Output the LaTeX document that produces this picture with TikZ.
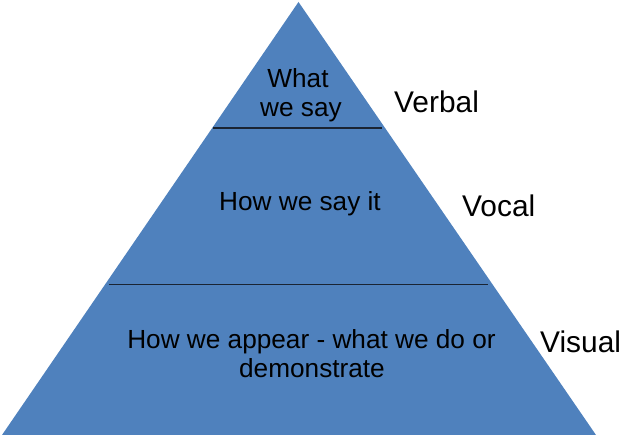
\documentclass[tikz,border=0pt]{standalone}
\usepackage{fontspec}
\setmainfont{Liberation Sans}
\definecolor{pyrblue}{HTML}{4F81BD}
\definecolor{divline}{HTML}{1A2433}
\begin{document}
\begin{tikzpicture}[x=1bp,y=1bp,
  inner/.style={inner sep=0pt,anchor=base,font=\fontsize{26.3}{29}\selectfont,text=black},
  lbl/.style={inner sep=0pt,anchor=base west,font=\fontsize{30}{33}\selectfont,text=black},
  divider/.style={draw=divline,line width=1.5bp}]
\useasboundingbox (0,0) rectangle (641,437);
\coordinate (apex) at (298.5,435);
\coordinate (bl) at (2,2);
\coordinate (br) at (596,2);
\fill[pyrblue] (bl) -- (apex) -- (br) -- cycle;
\coordinate (l1a) at (213,309);
\coordinate (l1b) at (382,309);
\coordinate (l2a) at (109,152.5);
\coordinate (l2b) at (488,152.5);
\draw[divider] (l1a) -- (l1b);
\draw[divider] (l2a) -- (l2b);
\node[inner] (t1a) at (298,349) {What};
\node[inner] (t1b) at (301,320) {we say};
\node[inner] (t2) at (300,226) {How we say it};
\node[inner] (t3a) at (311.5,88) {How we appear - what we do or};
\node[inner] (t3b) at (312,59) {demonstrate};
\node[lbl] (verbal) at (394,324) {Verbal};
\node[lbl] (vocal) at (462,220) {Vocal};
\node[lbl] (visual) at (540,84) {Visual};
\end{tikzpicture}
\end{document}
